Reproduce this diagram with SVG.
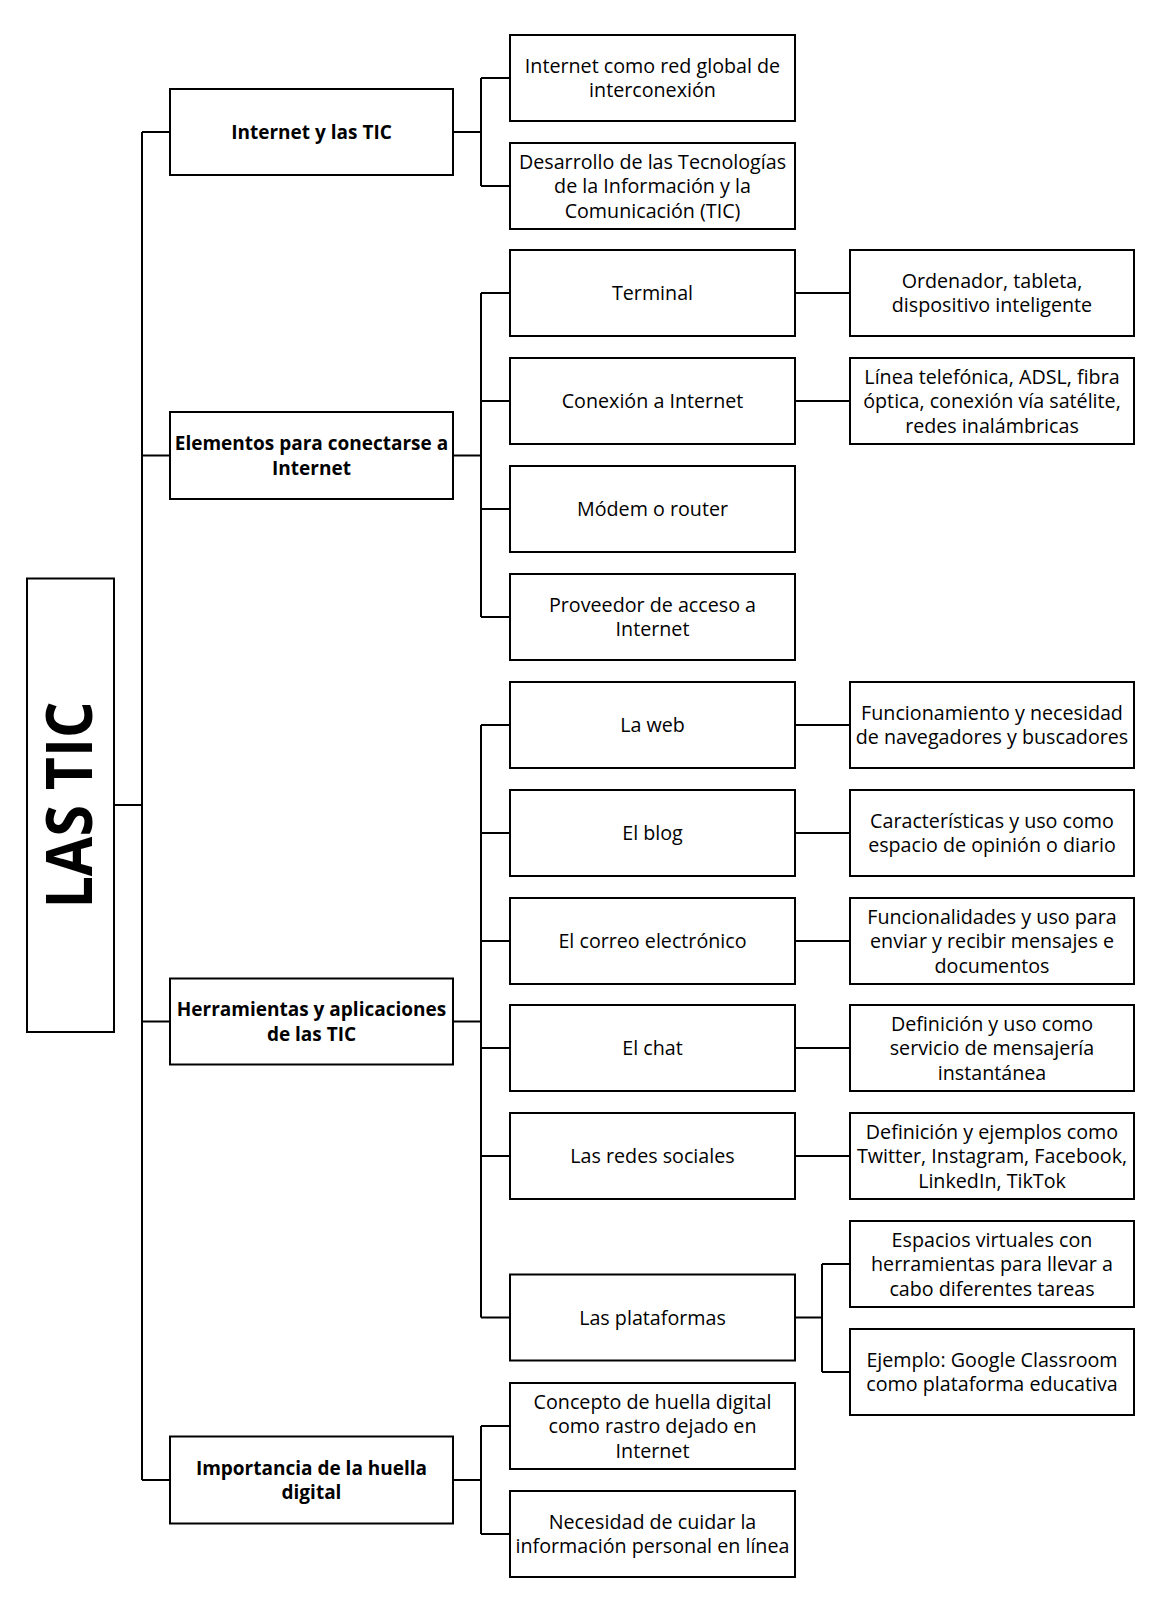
<svg xmlns="http://www.w3.org/2000/svg" width="1149" height="1612" viewBox="0 0 1149 1612">
<style>
.box{fill:#fff;stroke:#000;stroke-width:2}
.con{fill:none;stroke:#000;stroke-width:2}
text{font-family:"Open Sans","Noto Sans","Liberation Sans",sans-serif;fill:#000;text-anchor:middle}
.t{font-size:19.7px}
.b{font-size:19px;font-weight:bold}
.title{font-size:64px;font-weight:bold}
</style>
<rect width="1149" height="1612" fill="#fff"/>
<g id="connectors">
<path class="con" d="M142,132V1480M142,132H170M142,455.5H170M142,1021.5H170M142,1480H170M114,805H142"/>
<path class="con" d="M453,132H481M481,78V186M481,78H510M481,186H510"/>
<path class="con" d="M453,455.5H481M481,293V617M481,293H510M481,401H510M481,509H510M481,617H510"/>
<path class="con" d="M453,1021.5H481M481,725V1317.5M481,725H510M481,833H510M481,941H510M481,1048H510M481,1156H510M481,1317.5H510"/>
<path class="con" d="M453,1480H481M481,1426V1534M481,1426H510M481,1534H510"/>
<path class="con" d="M795,293H850M795,401H850M795,725H850M795,833H850M795,941H850M795,1048H850M795,1156H850"/>
<path class="con" d="M795,1317.5H822M822,1264V1372M822,1264H850M822,1372H850"/>
</g>
<g id="las-tic">
<rect class="box" x="27" y="578.5" width="87" height="453.5"/>
<text class="title" transform="translate(91.5,805) rotate(-90)" x="0" y="0" textLength="207" lengthAdjust="spacingAndGlyphs">LAS TIC</text>
</g>
<g id="internet-tic">
<rect class="box" x="170" y="89" width="283" height="86"/>
<text class="b" x="311.5" y="139">Internet y las TIC</text>
</g>
<g id="elementos">
<rect class="box" x="170" y="412" width="283" height="87"/>
<text class="b" x="311.5" y="450.25">Elementos para  conectarse a</text>
<text class="b" x="311.5" y="474.75">Internet</text>
</g>
<g id="herramientas">
<rect class="box" x="170" y="978.5" width="283" height="86"/>
<text class="b" x="311.5" y="1016.25">Herramientas y aplicaciones</text>
<text class="b" x="311.5" y="1040.75">de las TIC</text>
</g>
<g id="importancia">
<rect class="box" x="170" y="1436.5" width="283" height="87"/>
<text class="b" x="311.5" y="1474.75">Importancia de la huella</text>
<text class="b" x="311.5" y="1499.25">digital</text>
</g>
<g id="internet-red">
<rect class="box" x="510" y="35" width="285" height="86"/>
<text class="t" x="652.5" y="72.75">Internet como red global de</text>
<text class="t" x="652.5" y="97.25">interconexión</text>
</g>
<g id="desarrollo">
<rect class="box" x="510" y="143" width="285" height="86"/>
<text class="t" x="652.5" y="168.5">Desarrollo de las Tecnologías</text>
<text class="t" x="652.5" y="193">de la Información y la</text>
<text class="t" x="652.5" y="217.5">Comunicación (TIC)</text>
</g>
<g id="terminal">
<rect class="box" x="510" y="250" width="285" height="86"/>
<text class="t" x="652.5" y="300">Terminal</text>
</g>
<g id="conexion">
<rect class="box" x="510" y="358" width="285" height="86"/>
<text class="t" x="652.5" y="408">Conexión a Internet</text>
</g>
<g id="modem">
<rect class="box" x="510" y="466" width="285" height="86"/>
<text class="t" x="652.5" y="516">Módem o router</text>
</g>
<g id="proveedor">
<rect class="box" x="510" y="574" width="285" height="86"/>
<text class="t" x="652.5" y="611.75">Proveedor de acceso a</text>
<text class="t" x="652.5" y="636.25">Internet</text>
</g>
<g id="web">
<rect class="box" x="510" y="682" width="285" height="86"/>
<text class="t" x="652.5" y="732">La web</text>
</g>
<g id="blog">
<rect class="box" x="510" y="790" width="285" height="86"/>
<text class="t" x="652.5" y="840">El blog</text>
</g>
<g id="correo">
<rect class="box" x="510" y="898" width="285" height="86"/>
<text class="t" x="652.5" y="948">El correo electrónico</text>
</g>
<g id="chat">
<rect class="box" x="510" y="1005" width="285" height="86"/>
<text class="t" x="652.5" y="1055">El chat</text>
</g>
<g id="redes">
<rect class="box" x="510" y="1113" width="285" height="86"/>
<text class="t" x="652.5" y="1163">Las redes sociales</text>
</g>
<g id="plataformas">
<rect class="box" x="510" y="1274.5" width="285" height="86"/>
<text class="t" x="652.5" y="1324.5">Las plataformas</text>
</g>
<g id="concepto">
<rect class="box" x="510" y="1383" width="285" height="86"/>
<text class="t" x="652.5" y="1408.5">Concepto de huella digital</text>
<text class="t" x="652.5" y="1433">como rastro dejado en</text>
<text class="t" x="652.5" y="1457.5">Internet</text>
</g>
<g id="necesidad">
<rect class="box" x="510" y="1491" width="285" height="86"/>
<text class="t" x="652.5" y="1528.75">Necesidad de cuidar la</text>
<text class="t" x="652.5" y="1553.25">información personal en línea</text>
</g>
<g id="ordenador">
<rect class="box" x="850" y="250" width="284" height="86"/>
<text class="t" x="992" y="287.75">Ordenador, tableta,</text>
<text class="t" x="992" y="312.25">dispositivo inteligente</text>
</g>
<g id="linea">
<rect class="box" x="850" y="358" width="284" height="86"/>
<text class="t" x="992" y="383.5">Línea telefónica, ADSL, fibra</text>
<text class="t" x="992" y="408">óptica, conexión vía satélite,</text>
<text class="t" x="992" y="432.5">redes inalámbricas</text>
</g>
<g id="funcionamiento">
<rect class="box" x="850" y="682" width="284" height="86"/>
<text class="t" x="992" y="719.75">Funcionamiento y necesidad</text>
<text class="t" x="992" y="744.25">de navegadores y buscadores</text>
</g>
<g id="caracteristicas">
<rect class="box" x="850" y="790" width="284" height="86"/>
<text class="t" x="992" y="827.75">Características y uso como</text>
<text class="t" x="992" y="852.25">espacio de opinión o diario</text>
</g>
<g id="funcionalidades">
<rect class="box" x="850" y="898" width="284" height="86"/>
<text class="t" x="992" y="923.5">Funcionalidades y uso para</text>
<text class="t" x="992" y="948">enviar y recibir mensajes e</text>
<text class="t" x="992" y="972.5">documentos</text>
</g>
<g id="definicion-uso">
<rect class="box" x="850" y="1005" width="284" height="86"/>
<text class="t" x="992" y="1030.5">Definición y uso como</text>
<text class="t" x="992" y="1055">servicio de mensajería</text>
<text class="t" x="992" y="1079.5">instantánea</text>
</g>
<g id="definicion-ejemplos">
<rect class="box" x="850" y="1113" width="284" height="86"/>
<text class="t" x="992" y="1138.5">Definición y ejemplos como</text>
<text class="t" x="992" y="1163">Twitter, Instagram, Facebook,</text>
<text class="t" x="992" y="1187.5">LinkedIn, TikTok</text>
</g>
<g id="espacios">
<rect class="box" x="850" y="1221" width="284" height="86"/>
<text class="t" x="992" y="1246.5">Espacios virtuales con</text>
<text class="t" x="992" y="1271">herramientas para llevar a</text>
<text class="t" x="992" y="1295.5">cabo diferentes tareas</text>
</g>
<g id="ejemplo">
<rect class="box" x="850" y="1329" width="284" height="86"/>
<text class="t" x="992" y="1366.75">Ejemplo: Google Classroom</text>
<text class="t" x="992" y="1391.25">como plataforma educativa</text>
</g>
</svg>
